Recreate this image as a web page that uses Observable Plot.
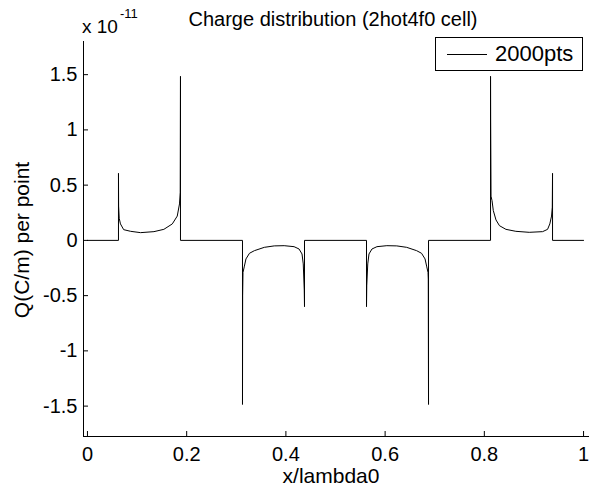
<!DOCTYPE html>
<html>
<head>
<meta charset="utf-8">
<script src="https://cdn.jsdelivr.net/npm/d3@7"></script>
<script src="https://cdn.jsdelivr.net/npm/@observablehq/plot@0.6"></script>
<style>
  html, body { margin: 0; padding: 0; background: #fff; }
  #wrap { position: relative; width: 589px; height: 491px; font-family: "Liberation Sans", Arial, sans-serif; color: #000; overflow: hidden; }
  .abs { position: absolute; white-space: nowrap; line-height: 1; }
</style>
</head>
<body>
<div id="wrap"></div>
<script>
// ---- data (x/lambda0, Q in units of 1e-11 C/m) ----
const lead0X = [0];
const lead0Y = [0];
const strip1X = [0.0625, 0.0625, 0.0628, 0.0640, 0.0665, 0.0730, 0.0870, 0.1070, 0.1340, 0.1540, 0.1710, 0.1810, 0.1855, 0.1870, 0.1875, 0.1875];
const strip1Y = [0, 0.607, 0.31, 0.20, 0.149, 0.097, 0.082, 0.070, 0.079, 0.100, 0.149, 0.220, 0.330, 0.435, 1.485, 0];
const strip2X = [0.3125, 0.3125, 0.3128, 0.3135, 0.3160, 0.3195, 0.3265, 0.3365, 0.3565, 0.3765, 0.3965, 0.4165, 0.4265, 0.4325, 0.4350, 0.4370, 0.4375, 0.4375];
const strip2Y = [0, -1.485, -0.50, -0.29, -0.24, -0.168, -0.117, -0.093, -0.063, -0.050, -0.048, -0.057, -0.078, -0.123, -0.213, -0.45, -0.60, 0];
const strip3X = [0.5625, 0.5625, 0.5630, 0.5650, 0.5675, 0.5735, 0.5835, 0.6035, 0.6235, 0.6435, 0.6635, 0.6735, 0.6805, 0.6840, 0.6865, 0.6870, 0.6873, 0.6875, 0.6875];
const strip3Y = [0, -0.60, -0.41, -0.213, -0.123, -0.078, -0.057, -0.048, -0.050, -0.063, -0.093, -0.117, -0.168, -0.24, -0.29, -0.35, -1.09, -1.485, 0];
const strip4X = [0.8125, 0.8125, 0.8127, 0.8135, 0.8155, 0.8181, 0.8235, 0.8305, 0.8435, 0.8635, 0.8905, 0.9175, 0.9275, 0.9320, 0.9355, 0.9370, 0.9375, 0.9375];
const strip4Y = [0, 1.485, 1.10, 0.40, 0.36, 0.27, 0.185, 0.133, 0.100, 0.082, 0.073, 0.079, 0.100, 0.149, 0.220, 0.300, 0.607, 0];
const tailX = [1];
const tailY = [0];

const xTicks = [0, 0.2, 0.4, 0.6, 0.8, 1];
const yTicks = [-1.5, -1, -0.5, 0, 0.5, 1, 1.5];
const xDomain = [-0.008, 1.012];
const yDomain = [-1.775, 1.8];

const titleText = "Charge distribution (2hot4f0 cell)";
const xLabel = "x/lambda0";
const yLabel = "Q(C/m) per point";
const seriesName = "2000pts";
const exponent = "-11";

const xs = [...lead0X, ...strip1X, ...strip2X, ...strip3X, ...strip4X, ...tailX];
const ys = [...lead0Y, ...strip1Y, ...strip2Y, ...strip3Y, ...strip4Y, ...tailY];
const data = xs.map((x, i) => ({x, y: ys[i]}));

const FONT = '"Liberation Sans", Arial, sans-serif';

const chart = Plot.plot({
  width: 589,
  height: 491,
  marginLeft: 83,
  marginRight: 0,
  marginTop: 41,
  marginBottom: 55,
  style: {fontFamily: FONT, color: "#000", background: "#fff", overflow: "visible"},
  x: {domain: xDomain, ticks: xTicks},
  y: {domain: yDomain, ticks: yTicks},
  marks: [
    Plot.ruleX([xDomain[0]], {stroke: "#000", strokeWidth: 1}),
    Plot.ruleY([yDomain[0]], {stroke: "#000", strokeWidth: 1}),
    Plot.line(data, {x: "x", y: "y", stroke: "#000", strokeWidth: 1}),
    Plot.axisX({ticks: xTicks, tickSize: -5, tickPadding: 15, fontSize: 20, label: null, tickFormat: d => String(d), stroke: "#000", strokeOpacity: 1}),
    Plot.axisY({ticks: yTicks, tickSize: -5, tickPadding: 11, fontSize: 20, label: null, tickFormat: d => String(d), stroke: "#000", strokeOpacity: 1})
  ]
});

const wrap = document.getElementById("wrap");
chart.style.position = "absolute";
chart.style.left = "0px";
chart.style.top = "0px";
wrap.appendChild(chart);

function addText(txt, css) {
  const d = document.createElement("div");
  d.className = "abs";
  d.textContent = txt;
  Object.assign(d.style, css);
  wrap.appendChild(d);
  return d;
}

// title
addText(titleText, {left: "333px", top: "9px", fontSize: "20px", transform: "translateX(-50%)"});
// exponent
addText("x 10", {left: "82px", top: "17px", fontSize: "19px"});
addText(exponent, {left: "120px", top: "7px", fontSize: "13px"});
// x label
addText(xLabel, {left: "331px", top: "465px", fontSize: "21px", transform: "translateX(-50%)"});
// y label
addText(yLabel, {left: "21px", top: "240px", fontSize: "21px", transform: "translate(-50%, -50%) rotate(-90deg)"});

// legend
const leg = document.createElement("div");
leg.className = "abs";
Object.assign(leg.style, {left: "435px", top: "37px", width: "146px", height: "32px", border: "1px solid #000", background: "#fff"});
const sw = document.createElement("div");
Object.assign(sw.style, {position: "absolute", left: "11px", top: "16px", width: "40px", height: "0px", borderTop: "1px solid #000"});
leg.appendChild(sw);
const lt = document.createElement("div");
lt.textContent = seriesName;
Object.assign(lt.style, {position: "absolute", left: "59px", top: "5px", fontSize: "22px", lineHeight: "1"});
leg.appendChild(lt);
wrap.appendChild(leg);
</script>
</body>
</html>
